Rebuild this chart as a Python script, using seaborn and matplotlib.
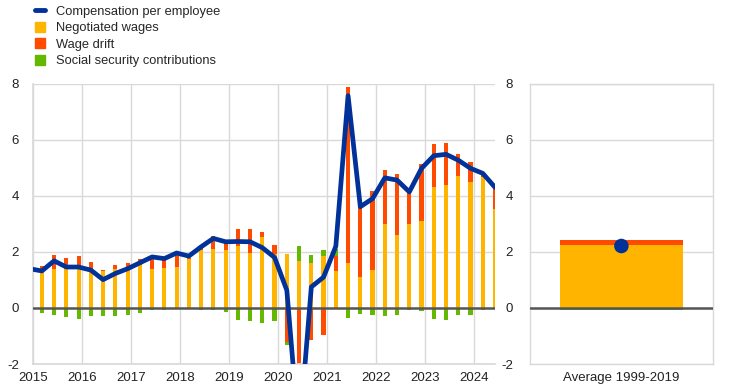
import numpy as np
import pandas as pd
import seaborn as sns
import matplotlib.pyplot as plt
from matplotlib.lines import Line2D
from matplotlib.patches import Patch

# quarterly data, 2015Q1 - 2024Q2 (annual % changes, contributions in pp)
years = [2015]*4 + [2016]*4 + [2017]*4 + [2018]*4 + [2019]*4 + [2020]*4 \
    + [2021]*4 + [2022]*4 + [2023]*4 + [2024]*2
quarters = [1, 2, 3, 4] * 9 + [1, 2]

negotiated = [1.38, 1.38, 1.40, 1.40, 1.29, 1.31, 1.38, 1.35,
              1.52, 1.38, 1.43, 1.45, 1.76, 2.06, 2.10, 2.06,
              2.21, 1.96, 2.52, 1.94, 1.92, 1.67, 1.60, 1.86,
              1.31, 1.60, 1.11, 1.35, 2.99, 2.60, 2.99, 3.10,
              4.31, 4.38, 4.70, 4.49, 4.68, 3.52]
drift = [0.11, 0.51, 0.37, 0.45, 0.34, 0.04, 0.14, 0.25,
         0.21, 0.41, 0.30, 0.43, 0.03, 0.14, 0.46, 0.36,
         0.60, 0.85, 0.18, 0.30, -1.21, -6.80, -1.15, -0.98,
         0.54, 6.28, 2.50, 2.82, 1.93, 2.17, 1.15, 2.03,
         1.54, 1.50, 0.79, 0.71, 0.05, 0.74]
ssc = [-0.18, -0.25, -0.32, -0.39, -0.30, -0.30, -0.30, -0.25,
       -0.18, -0.06, -0.06, 0.00, -0.02, -0.06, -0.06, -0.14,
       -0.43, -0.46, -0.54, -0.46, -0.11, 0.54, 0.29, 0.20,
       0.27, -0.36, -0.21, -0.26, -0.29, -0.25, -0.07, -0.11,
       -0.39, -0.44, -0.25, -0.25, -0.08, -0.02]

# compensation per employee starts one quarter earlier (2014Q4)
cpe = [1.40, 1.32, 1.68, 1.46, 1.46, 1.35, 1.01, 1.23, 1.40,
       1.61, 1.82, 1.76, 1.96, 1.85, 2.18, 2.48, 2.36,
       2.37, 2.36, 2.15, 1.80, 0.63, -4.60, 0.75, 1.10,
       2.20, 7.57, 3.61, 3.90, 4.64, 4.56, 4.14, 4.98,
       5.43, 5.48, 5.27, 4.98, 4.80, 4.30]

# average 1999-2019
avg_label = 'Average 1999-2019'
avg_negotiated = 2.26
avg_drift = 0.17
avg_ssc = -0.07
avg_cpe = 2.21

series_names = ['Compensation per employee', 'Negotiated wages', 'Wage drift',
                'Social security contributions']
blue, yellow, orange, green = '#003299', '#FFB400', '#FF4B00', '#65B800'

sns.set_theme(style='white')
plt.rcParams['font.family'] = ['Liberation Sans', 'DejaVu Sans']
plt.rcParams['font.size'] = 9.3
plt.rcParams['axes.unicode_minus'] = False

df = pd.DataFrame({'year': years, 'q': quarters, 'negotiated': negotiated,
                   'drift': drift, 'ssc': ssc})
df['x'] = df.year + (df.q - 1) / 4 + 0.18
x_cpe = np.concatenate([[df.x.iloc[0] - 0.25], df.x.values])


def stack(ax, x, parts, colors, width):
    pos = np.zeros(len(x))
    neg = np.zeros(len(x))
    for vals, c in zip(parts, colors):
        vals = np.asarray(vals, dtype=float)
        bottom = np.where(vals >= 0, pos, neg)
        ax.bar(x, vals, bottom=bottom, width=width, color=c, linewidth=0, zorder=2)
        pos = pos + np.clip(vals, 0, None)
        neg = neg + np.clip(vals, None, 0)


fig = plt.figure(figsize=(7.44, 3.91), dpi=100)
ax = fig.add_axes([0.0444, 0.069, 0.621, 0.717])
ax2 = fig.add_axes([0.7117, 0.069, 0.247, 0.717])

grid = '#D9D9D9'

# left panel
stack(ax, df.x.values, [df.negotiated, df.drift, df.ssc], [yellow, orange, green], 0.085)
sns.lineplot(x=x_cpe, y=cpe, ax=ax, color=blue, lw=3.4, zorder=4,
             solid_joinstyle='round', sort=False)
ax.axhline(0, color='#555555', lw=1.8, zorder=3)
ax.set_xlim(2015, 2024.43)
ax.set_ylim(-2, 8)
ax.set_xticks(range(2015, 2025))
ax.set_yticks(range(-2, 9, 2))
ax.grid(True, color=grid, lw=1, zorder=0)
ax.set_axisbelow(True)
for s in ['top', 'right']:
    ax.spines[s].set_visible(False)
for s in ['left', 'bottom']:
    ax.spines[s].set_color(grid)
ax.tick_params(axis='both', length=0, labelsize=9.5, colors='#222222')
ax.tick_params(axis='y', pad=10)
ax.tick_params(axis='x', pad=6)

# right panel
stack(ax2, [0], [[avg_negotiated], [avg_drift], [avg_ssc]], [yellow, orange, green], 1.0)
sns.scatterplot(x=[0], y=[avg_cpe], ax=ax2, color=blue, s=110, zorder=5,
                edgecolor='none')
ax2.axhline(0, color='#555555', lw=1.8, zorder=3)
ax2.set_xlim(-0.75, 0.75)
ax2.set_ylim(-2, 8)
ax2.set_xticks([0])
ax2.set_xticklabels([avg_label])
ax2.set_yticks(range(-2, 9, 2))
ax2.grid(True, axis='y', color=grid, lw=1, zorder=0)
ax2.set_axisbelow(True)
for s in ax2.spines.values():
    s.set_color(grid)
    s.set_linewidth(1)
ax2.tick_params(axis='both', length=0, labelsize=9.5, colors='#222222')
ax2.tick_params(axis='y', pad=12)
ax2.tick_params(axis='x', pad=6)

handles = [Line2D([0], [0], color=blue, lw=3.5),
           Patch(color=yellow), Patch(color=orange), Patch(color=green)]
fig.legend(handles, series_names, loc='upper left', bbox_to_anchor=(0.04, 1.0),
           frameon=False, fontsize=9.3, handlelength=0.75, handleheight=0.8,
           handletextpad=0.9, labelspacing=0.32, borderaxespad=0)

plt.savefig('out.png', dpi=100)
